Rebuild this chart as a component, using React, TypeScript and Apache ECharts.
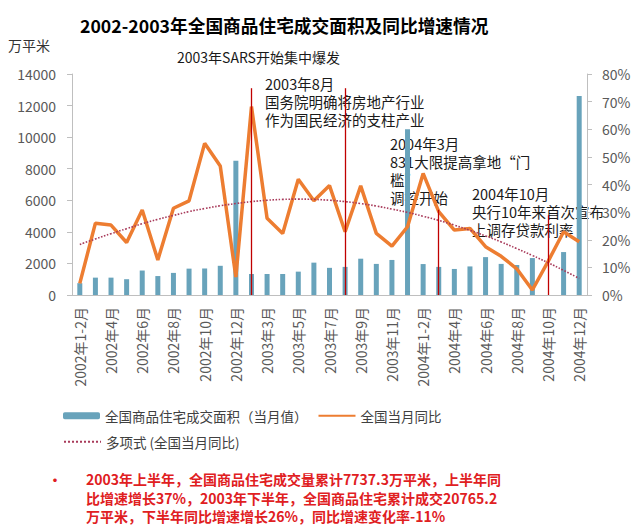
import React, { useEffect, useRef } from "react";
import * as echarts from "echarts";

const categories = [
  "2002年1-2月", "2002年3月", "2002年4月", "2002年5月", "2002年6月", "2002年7月",
  "2002年8月", "2002年9月", "2002年10月", "2002年11月", "2002年12月",
  "2003年1-2月", "2003年3月", "2003年4月", "2003年5月", "2003年6月", "2003年7月",
  "2003年8月", "2003年9月", "2003年10月", "2003年11月", "2003年12月",
  "2004年1-2月", "2004年3月", "2004年4月", "2004年5月", "2004年6月", "2004年7月",
  "2004年8月", "2004年9月", "2004年10月", "2004年11月", "2004年12月",
];

const areaValues = [
  750, 1100, 1100, 1000, 1550, 1200, 1400, 1670, 1680, 1850, 8500,
  1330, 1330, 1330, 1480, 2050, 1720, 1780, 2300, 1970, 2220, 10500,
  1960, 1780, 1650, 1810, 2400, 1970, 1900, 2340, null, 2720, 12600,
];

const yoyValues = [
  4.2, 26, 25.3, 19, 30.8, 12.7, 31.4, 34.1, 54.9, 46.7, 6.5,
  68.2, 27.8, 22.3, 41.9, 34.1, 39.6, 22.9, 39.5, 22.3, 17.7, 24.7,
  44, 30.2, 23.5, 24.1, 17.5, 14, 9.5, 1.8, 12.1, 22.9, 19.3,
];

const trendValues = [
  18.3, 20.3, 22.2, 24, 25.8, 27.4, 28.8, 30.2, 31.3, 32.3, 33.1,
  33.8, 34.3, 34.6, 34.7, 34.6, 34.3, 33.8, 33.1, 32.2, 31.1, 29.9,
  28.5, 27, 25.3, 23.4, 21.4, 19.2, 16.8, 14.3, 11.7, 8.9, 6.0,
];

const seriesNames = ["全国商品住宅成交面积（当月值）", "全国当月同比", "多项式 (全国当月同比)"];

// event markers: [category index, top value on left axis]
const eventLines: [number, number][] = [
  [11, 13100],
  [17, 13100],
  [23, 5400],
  [30, 5050],
];

const titleText = "2002-2003年全国商品住宅成交面积及同比增速情况";
const unitText = "万平米";
const sarsText = "2003年SARS开始集中爆发";
const note1 = "2003年8月\n国务院明确将房地产行业\n作为国民经济的支柱产业";
const note2 = "2004年3月\n831大限提高拿地“门\n槛”\n调控开始";
const note3 = "2004年10月\n央行10年来首次宣布\n上调存贷款利率";
const summaryText =
  "2003年上半年，全国商品住宅成交量累计7737.3万平米，上半年同\n比增速增长37%，2003年下半年，全国商品住宅累计成交20765.2\n万平米，下半年同比增速增长26%，同比增速变化率-11%";

const FONT = '"Noto Sans CJK SC", "Noto Sans", sans-serif';

export default function App() {
  const ref = useRef<HTMLDivElement>(null);
  useEffect(() => {
    if (!ref.current) return;
    const chart = echarts.init(ref.current, undefined, { renderer: "svg" });
    const axisLabel = { color: "#595959", fontSize: 14, fontFamily: FONT };
    const legendText = { fontSize: 13.5, color: "#404040", fontFamily: FONT };
    const textEl = (text: string, x: number, y: number, size: number, extra: any = {}) => ({
      type: "text",
      x,
      y,
      silent: true,
      style: {
        text,
        fontSize: size,
        fontFamily: FONT,
        fill: "#1a1a1a",
        lineHeight: 18,
        verticalAlign: "top",
        textVerticalAlign: "top",
        ...extra,
      },
    });
    chart.setOption({
      animation: false,
      backgroundColor: "#ffffff",
      textStyle: { fontFamily: FONT },
      title: {
        text: titleText,
        left: 80,
        top: 16,
        padding: 0,
        textStyle: { fontSize: 17.7, fontWeight: "bold", color: "#000", fontFamily: FONT },
      },
      grid: { left: 72, right: 56, top: 74, bottom: 236, containLabel: false },
      legend: [
        {
          left: 63,
          top: 409,
          itemWidth: 37,
          itemHeight: 7,
          itemGap: 10,
          padding: 0,
          data: [
            seriesNames[0],
            { name: seriesNames[1], itemStyle: { opacity: 0 } },
          ],
          textStyle: legendText,
        },
        {
          left: 63,
          top: 435,
          itemWidth: 37,
          itemHeight: 7,
          padding: 0,
          data: [{ name: seriesNames[2], itemStyle: { opacity: 0 } }],
          textStyle: legendText,
        },
      ],
      xAxis: {
        type: "category",
        data: categories,
        boundaryGap: true,
        axisLine: { show: true, lineStyle: { color: "#bfbfbf" } },
        axisTick: { show: false },
        axisLabel: { ...axisLabel, interval: 1, rotate: 90, margin: 12 },
      },
      yAxis: [
        {
          type: "value",
          min: 0,
          max: 14000,
          interval: 2000,
          axisLine: { show: true, lineStyle: { color: "#bfbfbf" } },
          axisTick: { show: true, inside: false, length: 5, lineStyle: { color: "#bfbfbf" } },
          splitLine: { show: false },
          axisLabel: { ...axisLabel, margin: 16, formatter: (v: number) => String(v) },
        },
        {
          type: "value",
          min: 0,
          max: 80,
          interval: 10,
          position: "right",
          axisLine: { show: true, lineStyle: { color: "#bfbfbf" } },
          axisTick: { show: true, inside: false, length: 5, lineStyle: { color: "#bfbfbf" } },
          splitLine: { show: false },
          axisLabel: { ...axisLabel, margin: 15, formatter: "{value}%" },
        },
      ],
      series: [
        {
          name: seriesNames[0],
          type: "bar",
          yAxisIndex: 0,
          data: areaValues,
          barWidth: 5,
          itemStyle: { color: "#68a3bb" },
          markLine: {
            silent: true,
            symbol: "none",
            label: { show: false },
            lineStyle: { color: "#c00000", width: 1.3, type: "solid" },
            data: eventLines.map(([idx, top]) => [
              { coord: [idx, top] },
              { coord: [idx, 0] },
            ]),
          },
        },
        {
          name: seriesNames[1],
          type: "line",
          yAxisIndex: 1,
          data: yoyValues,
          symbol: "none",
          lineStyle: { color: "#ed7d31", width: 3.5 },
          itemStyle: { color: "#ed7d31" },
          z: 3,
        },
        {
          name: seriesNames[2],
          type: "line",
          yAxisIndex: 1,
          data: trendValues,
          symbol: "none",
          smooth: true,
          lineStyle: { color: "#a83a5a", width: 1.6, type: "dotted" },
          itemStyle: { color: "#a83a5a" },
          z: 4,
        },
      ],
      graphic: [
        textEl(unitText, 8, 36, 14, { fill: "#333" }),
        textEl(sarsText, 177, 48, 14),
        textEl(note1, 265, 74, 14.5),
        textEl(note2, 390, 134, 14.5),
        textEl(note3, 472, 184, 14.5),
        textEl("•", 48, 470, 14, { fill: "#e0201f", fontWeight: "bold" }),
        textEl(summaryText, 86, 470, 14, { fill: "#e0201f", fontWeight: "bold", lineHeight: 18.5 }),
      ],
    });
    return () => chart.dispose();
  }, []);
  return (
    <div
      ref={ref}
      style={{ position: "fixed", left: 0, top: 0, width: 643, height: 531, background: "#fff" }}
    />
  );
}
